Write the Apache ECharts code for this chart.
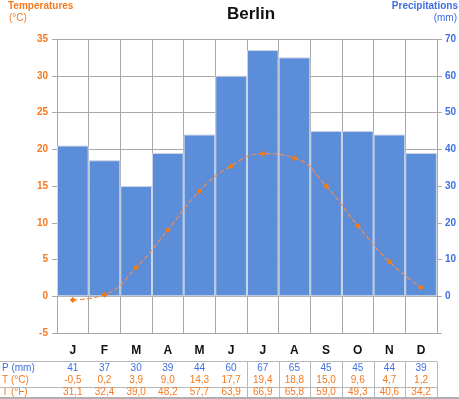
<!DOCTYPE html>
<html><head><meta charset="utf-8">
<script src="https://cdn.jsdelivr.net/npm/echarts@6/dist/echarts.min.js"></script>
<style>html,body{margin:0;padding:0;background:#fff}#c{width:459px;height:399px}</style>
</head><body><div id="c"></div>
<script>
var months = ['J','F','M','A','M','J','J','A','S','O','N','D'];
var precip = [41,37,30,39,44,60,67,65,45,45,44,39];
var tempC = [-0.5,0.2,3.9,9.0,14.3,17.7,19.4,18.8,15.0,9.6,4.7,1.2];
var tempF = [31.1,32.4,39.0,48.2,57.7,63.9,66.9,65.8,59.0,49.3,40.6,34.2];
var tempTicks = [-5,0,5,10,15,20,25,30,35];
var precipTicks = [0,10,20,30,40,50,60,70];

var ORANGE = '#f47a20', BLUE = '#3f6fe0', FONT = 'Liberation Sans, Arial, sans-serif';
function fmt1(v){ return v.toFixed(1).replace('.', ','); }
var gridL = 57, gridR = 22, gridT = 39, gridB = 66;

function rowAxis(data, color, offset){
  return {type:'category', position:'bottom', gridIndex:0, offset:offset, data:data,
    axisLine:{show:false}, axisTick:{show:false}, splitLine:{show:false},
    axisLabel:{color:color, fontSize:10, fontFamily:FONT, margin:0, interval:0}};
}

var chart = echarts.init(document.getElementById('c'));
var option = {
  animation:false,
  textStyle:{fontFamily:FONT},
  title:{text:'Berlin', left:246, textAlign:'center', top:1,
    textStyle:{fontSize:17, fontWeight:'bold', color:'#111', fontFamily:FONT}},
  grid:{left:gridL, right:gridR, top:gridT, bottom:gridB},
  xAxis:[
    {type:'category', data:months, position:'bottom',
      axisLine:{show:true, lineStyle:{color:'#a8a8a8'}},
      axisTick:{show:true, length:5, lineStyle:{color:'#a8a8a8'}},
      splitLine:{show:true, lineStyle:{color:'#a8a8a8'}},
      axisLabel:{color:'#111', fontWeight:'bold', fontSize:12, margin:12, fontFamily:FONT}},
    rowAxis(precip.map(String), BLUE, 30),
    rowAxis(tempC.map(fmt1), ORANGE, 42),
    rowAxis(tempF.map(fmt1), ORANGE, 54)
  ],
  yAxis:[
    {type:'value', min:tempTicks[0], max:tempTicks[tempTicks.length-1], interval:5, position:'left',
      axisLine:{show:false}, axisTick:{show:true, length:5, lineStyle:{color:'#a8a8a8'}},
      splitLine:{show:true, lineStyle:{color:'#a8a8a8'}},
      axisLabel:{color:ORANGE, fontWeight:'bold', fontSize:10, margin:9, fontFamily:FONT}},
    {type:'value', min:-10, max:precipTicks[precipTicks.length-1], interval:10, position:'right',
      axisLine:{show:false}, axisTick:{show:true, length:5, lineStyle:{color:'#a8a8a8'}},
      splitLine:{show:false},
      axisLabel:{color:BLUE, fontWeight:'bold', fontSize:10, margin:8, fontFamily:FONT,
        formatter:function(v){ return precipTicks.indexOf(v) >= 0 ? String(v) : ''; }}}
  ],
  series:[
    {type:'bar', data:precip, yAxisIndex:1, xAxisIndex:0, barCategoryGap:'0%', z:2,
      itemStyle:{color:'#5b8dd8', borderColor:'#cdd6e6', borderWidth:1}},
    {type:'line', data:tempC, yAxisIndex:0, xAxisIndex:0, smooth:true, z:5,
      symbol:'diamond', symbolSize:6,
      lineStyle:{color:'#f28a50', width:1.2, type:'dashed'},
      itemStyle:{color:'#f47a10'}}
  ],
  graphic:[
    {type:'text', left:8, top:1, style:{text:'Temperatures', fill:ORANGE, font:'bold 10px '+FONT}},
    {type:'text', left:9, top:13, style:{text:'(°C)', fill:ORANGE, font:'10px '+FONT}},
    {type:'text', right:1, top:1, style:{text:'Precipitations', fill:BLUE, font:'bold 10px '+FONT}},
    {type:'text', right:2, top:13, style:{text:'(mm)', fill:BLUE, font:'10px '+FONT}},
    {type:'text', left:2, top:363, style:{text:'P (mm)', fill:BLUE, font:'10px '+FONT}},
    {type:'text', left:2, top:375, style:{text:'T (°C)', fill:ORANGE, font:'10px '+FONT}},
    {type:'text', left:2, top:387, style:{text:'T (°F)', fill:ORANGE, font:'10px '+FONT}}
  ]
};
chart.setOption(option);

// table lines aligned with the category axis
var plotRight = 459 - gridR;
var lines = [];
function hline(y){ lines.push({type:'line', shape:{x1:0,y1:y,x2:plotRight,y2:y}, style:{stroke:'#b8b8b8', lineWidth:1}}); }
hline(361.5); hline(387.5);
var bw = (plotRight - gridL) / months.length;
for (var i = 0; i <= months.length; i++){
  var x = Math.round(chart.convertToPixel({xAxisIndex:0}, months[0]) - bw/2 + i*bw) + 0.5;
  lines.push({type:'line', shape:{x1:x,y1:361.5,x2:x,y2:399}, style:{stroke:'#b8b8b8', lineWidth:1}});
}
lines.push({type:'rect', shape:{x:0,y:397,width:459,height:2}, style:{fill:'#b0b0b0'}});
chart.setOption({graphic: option.graphic.concat(lines)});
</script></body></html>
